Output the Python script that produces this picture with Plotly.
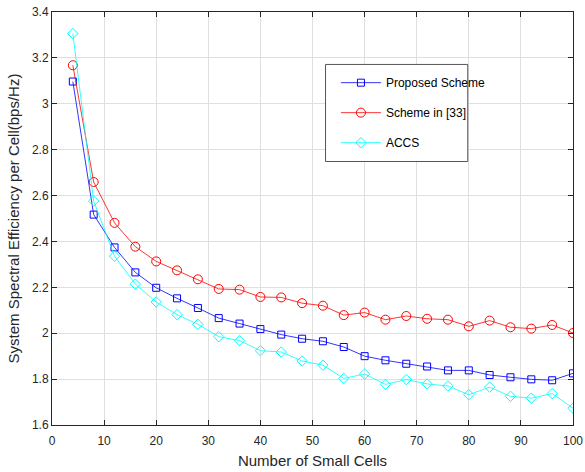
import plotly.graph_objects as go

# Number of small cells (x-axis)
num_cells = [4, 8, 12, 16, 20, 24, 28, 32, 36, 40, 44, 48, 52,
             56, 60, 64, 68, 72, 76, 80, 84, 88, 92, 96, 100]

# System spectral efficiency per cell (bps/Hz)
proposed = [3.097, 2.517, 2.374, 2.265, 2.198, 2.152, 2.110, 2.066, 2.042,
            2.018, 1.994, 1.976, 1.965, 1.940, 1.900, 1.882, 1.867, 1.855,
            1.838, 1.838, 1.818, 1.808, 1.799, 1.795, 1.825]
scheme33 = [3.168, 2.659, 2.481, 2.377, 2.313, 2.274, 2.235, 2.193, 2.190,
            2.158, 2.156, 2.131, 2.120, 2.079, 2.090, 2.059, 2.075, 2.063,
            2.059, 2.030, 2.055, 2.026, 2.020, 2.036, 2.001]
accs = [3.306, 2.576, 2.336, 2.214, 2.136, 2.081, 2.039, 1.985, 1.968,
        1.924, 1.918, 1.879, 1.861, 1.803, 1.822, 1.777, 1.798, 1.779,
        1.770, 1.732, 1.765, 1.725, 1.717, 1.737, 1.673]

x_ticks = [0, 10, 20, 30, 40, 50, 60, 70, 80, 90, 100]
y_ticks = [1.6, 1.8, 2.0, 2.2, 2.4, 2.6, 2.8, 3.0, 3.2, 3.4]
y_tick_text = ["1.6", "1.8", "2", "2.2", "2.4", "2.6", "2.8", "3", "3.2", "3.4"]

series = [
    ("Proposed Scheme", proposed, "#0000FF", "square-open", 7),
    ("Scheme in [33]", scheme33, "#FF0000", "circle-open", 9),
    ("ACCS", accs, "#00FFFF", "diamond-open", 8),
]

FONT = "Liberation Sans, Arial, sans-serif"
INK = "#262626"

fig = go.Figure()
for name, vals, color, symbol, size in series:
    fig.add_trace(go.Scatter(
        x=num_cells, y=vals, name=name, legendgroup=name,
        mode="lines+markers",
        line=dict(color=color, width=0.8),
        marker=dict(symbol=symbol, size=size, color=color,
                    line=dict(color=color, width=1)),
    ))

axis_common = dict(
    automargin=False,
    showline=True, linecolor=INK, linewidth=1, mirror="ticks",
    ticks="inside", ticklen=5, tickcolor=INK,
    showgrid=True, gridcolor="#DFDFDF", gridwidth=1, zeroline=False,
    tickfont=dict(family=FONT, size=12, color=INK),
)

fig.update_xaxes(
    range=[0, 100], tickvals=x_ticks, ticklabelstandoff=5,
    title=dict(text="Number of Small Cells", standoff=8,
               font=dict(family=FONT, size=15, color=INK)),
    **axis_common,
)
fig.update_yaxes(
    range=[1.6, 3.4], tickvals=y_ticks, ticktext=y_tick_text,
    title=dict(text="System Spectral Efficiency per Cell(bps/Hz)", standoff=8,
               font=dict(family=FONT, size=15, color=INK)),
    **axis_common,
)

# Framed legend panel
fig.add_shape(
    type="rect", xref="paper", yref="paper",
    x0=0.525, x1=0.798, y0=0.638, y1=0.873,
    fillcolor="white", line=dict(color="#555555", width=1), layer="above",
)

fig.update_layout(
    width=585, height=472,
    margin=dict(l=52, r=12, t=12, b=47),
    paper_bgcolor="white", plot_bgcolor="white",
    font=dict(family=FONT, size=12, color=INK),
    legend=dict(
        x=0.545, y=0.864, xanchor="left", yanchor="top",
        bgcolor="rgba(0,0,0,0)", borderwidth=0,
        font=dict(family=FONT, size=12, color="#000000"),
        traceorder="grouped", tracegroupgap=11, itemwidth=40,
    ),
)

fig.write_html("out.html")
